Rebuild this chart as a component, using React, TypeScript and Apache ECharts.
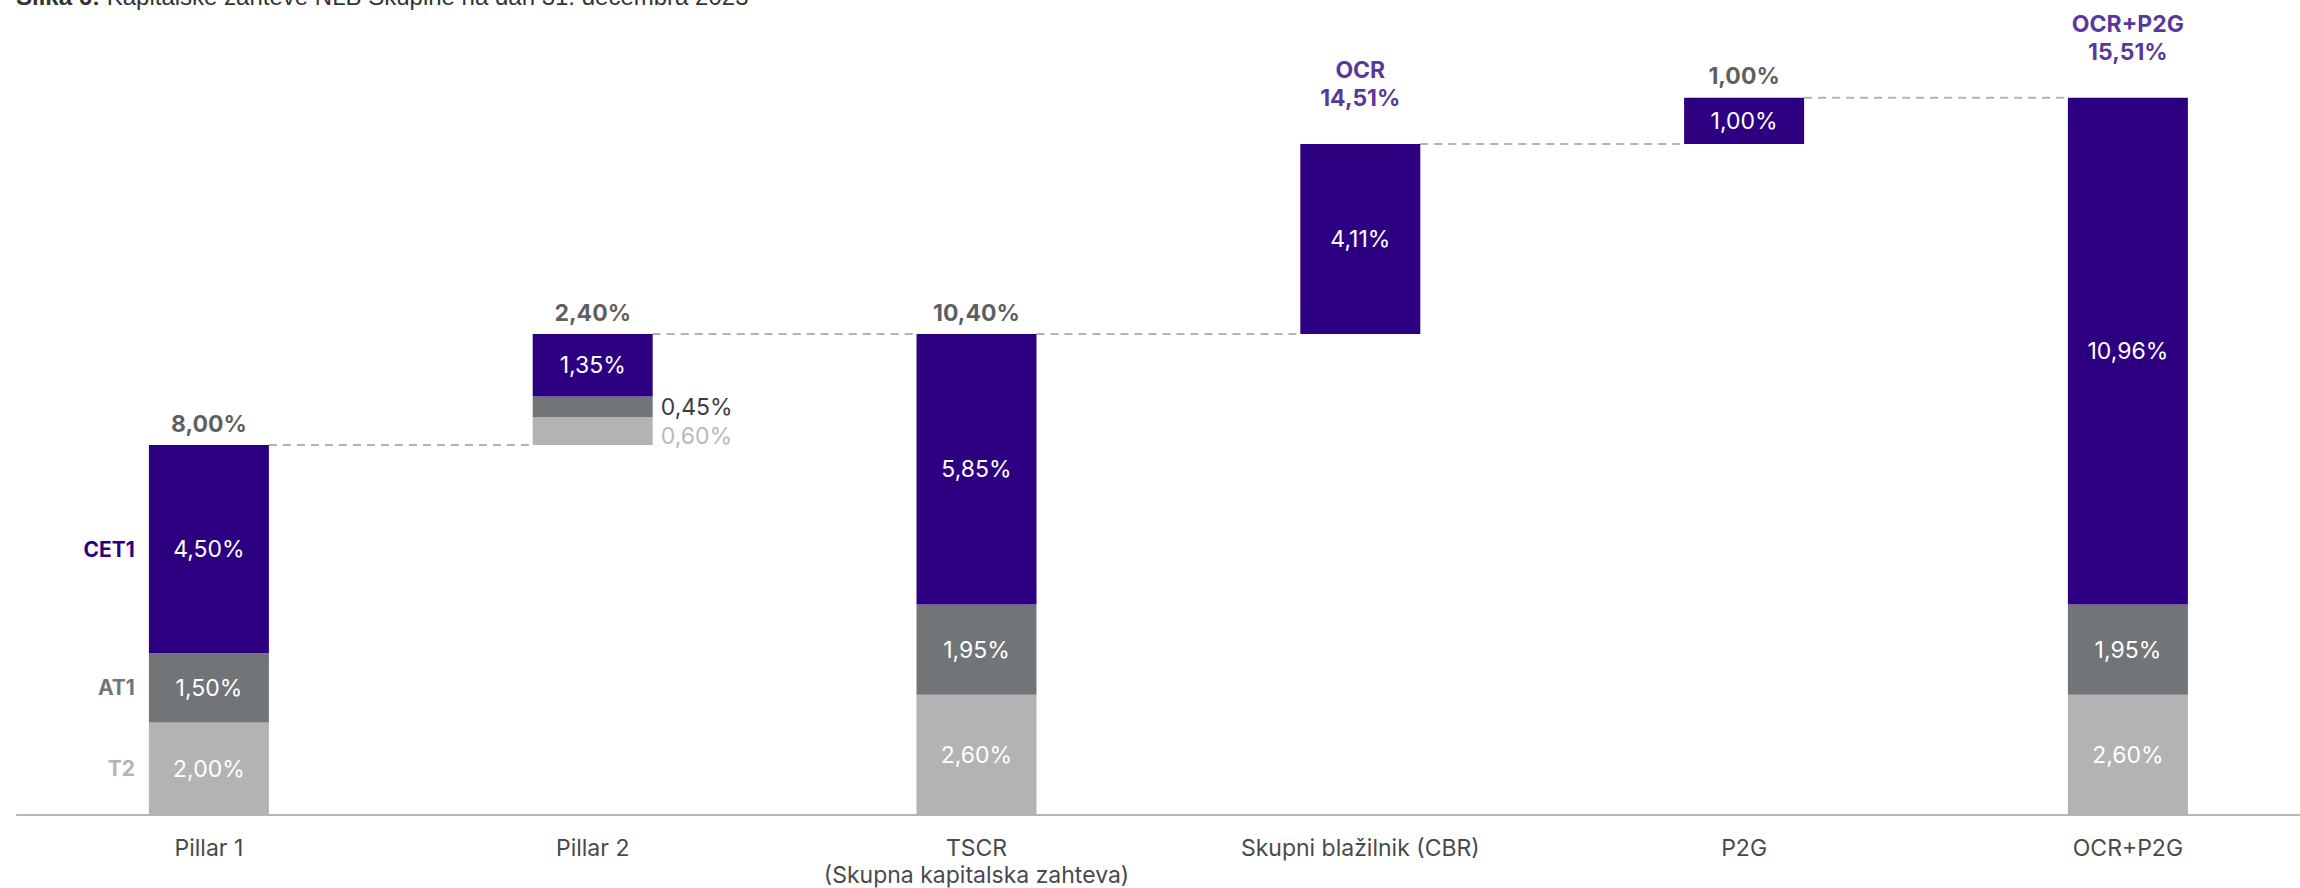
import React, { useEffect, useRef } from "react";
import * as echarts from "echarts";

const categories = [
  "Pillar 1",
  "Pillar 2",
  "TSCR\n(Skupna kapitalska zahteva)",
  "Skupni blažilnik (CBR)",
  "P2G",
  "OCR+P2G",
];
const baseValues = [0, 8.0, 0, 10.4, 14.51, 0];
const t2Values: (number | null)[] = [2.0, 0.6, 2.6, null, null, 2.6];
const at1Values: (number | null)[] = [1.5, 0.45, 1.95, null, null, 1.95];
const cet1Values = [4.5, 1.35, 5.85, 4.11, 1.0, 10.96];
const topLabels = ["8,00%", "2,40%", "10,40%", "OCR\n14,51%", "1,00%", "OCR+P2G\n15,51%"];
const highlightedTops = [3, 5];
const tierNames = ["T2", "AT1", "CET1"];
const titleBold = "Slika 6:";
const titleText = " Kapitalske zahteve NLB Skupine na dan 31. decembra 2023";

const PURPLE = "#2D0082";
const GRAY_DARK = "#727578";
const GRAY_LIGHT = "#B2B3B5";
const FONT = "Inter";
const BAR_W = 120;

const fmt = (v: number) => v.toFixed(2).replace(".", ",") + "%";

export default function App() {
  const ref = useRef<HTMLDivElement>(null);

  useEffect(() => {
    document.body.style.margin = "0";
    if (!ref.current) return;
    const chart = echarts.init(ref.current, undefined, { renderer: "svg" });

    const totals = categories.map(
      (_, i) => baseValues[i] + (t2Values[i] || 0) + (at1Values[i] || 0) + cet1Values[i]
    );
    const tierMids = [
      (t2Values[0] as number) / 2,
      (t2Values[0] as number) + (at1Values[0] as number) / 2,
      (t2Values[0] as number) + (at1Values[0] as number) + cet1Values[0] / 2,
    ];
    const tierColors = [GRAY_LIGHT, GRAY_DARK, PURPLE];

    const insideLabel = {
      show: true,
      position: "inside",
      color: "#ffffff",
      fontFamily: FONT,
      fontSize: 23,
      formatter: (p: any) => fmt(p.value),
    };

    const segData = (arr: (number | null)[], sideColor: string, off: number) =>
      arr.map((v, i) => {
        if (v == null) return "-";
        if (i === 1)
          return {
            value: v,
            label: { position: "right", distance: 8, color: sideColor, offset: [0, off] },
          };
        return v;
      });

    const option: any = {
      animation: false,
      graphic: [
        {
          type: "text",
          x: 16,
          y: -4,
          style: {
            text: "{b|" + titleBold + "}" + titleText,
            rich: { b: { fontWeight: "bold", fontSize: 24, fontFamily: "Liberation Sans", fill: "#333" } },
            fontSize: 24,
            fontFamily: "Liberation Sans",
            fill: "#333",
            verticalAlign: "middle",
          },
        },
      ],
      grid: { left: 17, width: 383.8 * 6, top: 28.75, bottom: 73, outerBoundsMode: "none", containLabel: false },
      xAxis: {
        type: "category",
        data: categories,
        axisTick: { show: false },
        axisLine: { lineStyle: { color: "#b5b5b5", width: 2 } },
        axisLabel: {
          interval: 0,
          margin: 19,
          color: "#4a4a4a",
          fontFamily: FONT,
          fontSize: 23,
          lineHeight: 27,
        },
      },
      yAxis: {
        type: "value",
        min: 0,
        max: 17,
        show: false,
        splitLine: { show: false },
      },
      series: [
        {
          name: "base",
          type: "bar",
          stack: "w",
          barWidth: BAR_W,
          itemStyle: { color: "transparent" },
          data: baseValues,
          silent: true,
        },
        {
          name: "T2",
          type: "bar",
          stack: "w",
          barWidth: BAR_W,
          itemStyle: { color: GRAY_LIGHT },
          label: insideLabel,
          data: segData(t2Values, "#b9b9b9", 5),
        },
        {
          name: "AT1",
          type: "bar",
          stack: "w",
          barWidth: BAR_W,
          itemStyle: { color: GRAY_DARK },
          label: insideLabel,
          data: segData(at1Values, "#3d3d3d", 0),
        },
        {
          name: "CET1",
          type: "bar",
          stack: "w",
          barWidth: BAR_W,
          itemStyle: { color: PURPLE },
          label: insideLabel,
          data: cet1Values,
        },
        {
          name: "tops",
          type: "scatter",
          symbolSize: 1,
          itemStyle: { color: "transparent" },
          silent: true,
          data: totals.map((t, i) => {
            const hl = highlightedTops.includes(i);
            return {
              value: [i, t],
              label: {
                show: true,
                position: "top",
                distance: hl ? 31 : 7,
                formatter: () => topLabels[i],
                color: hl ? PURPLE : "#333333",
                fontWeight: "bold",
                fontFamily: FONT,
                fontSize: 23,
                lineHeight: 28,
              },
            };
          }),
        },
        {
          name: "connectors",
          type: "custom",
          silent: true,
          data: totals.slice(0, totals.length - 1).map((t, i) => [i, t]),
          renderItem: (params: any, api: any) => {
            const i = api.value(0);
            const lvl = api.value(1);
            const a = api.coord([i, lvl]);
            const b = api.coord([i + 1, lvl]);
            return {
              type: "line",
              shape: { x1: a[0] + BAR_W / 2, y1: a[1], x2: b[0] - BAR_W / 2, y2: b[1] },
              style: { stroke: "#b3b3b3", lineWidth: 2, lineDash: [8, 6] },
            };
          },
        },
        {
          name: "tiers",
          type: "custom",
          silent: true,
          data: tierMids.map((m) => [0, m]),
          renderItem: (params: any, api: any) => {
            const k = params.dataIndex;
            const p = api.coord([api.value(0), api.value(1)]);
            return {
              type: "text",
              x: p[0] - BAR_W / 2 - 14,
              y: p[1],
              style: {
                text: tierNames[k],
                align: "right",
                verticalAlign: "middle",
                fill: tierColors[k],
                fontWeight: "bold",
                fontFamily: FONT,
                fontSize: 21,
              },
            };
          },
        },
      ],
    };

    chart.setOption(option);
    return () => chart.dispose();
  }, []);

  return <div ref={ref} style={{ width: 2300, height: 888 }} />;
}
